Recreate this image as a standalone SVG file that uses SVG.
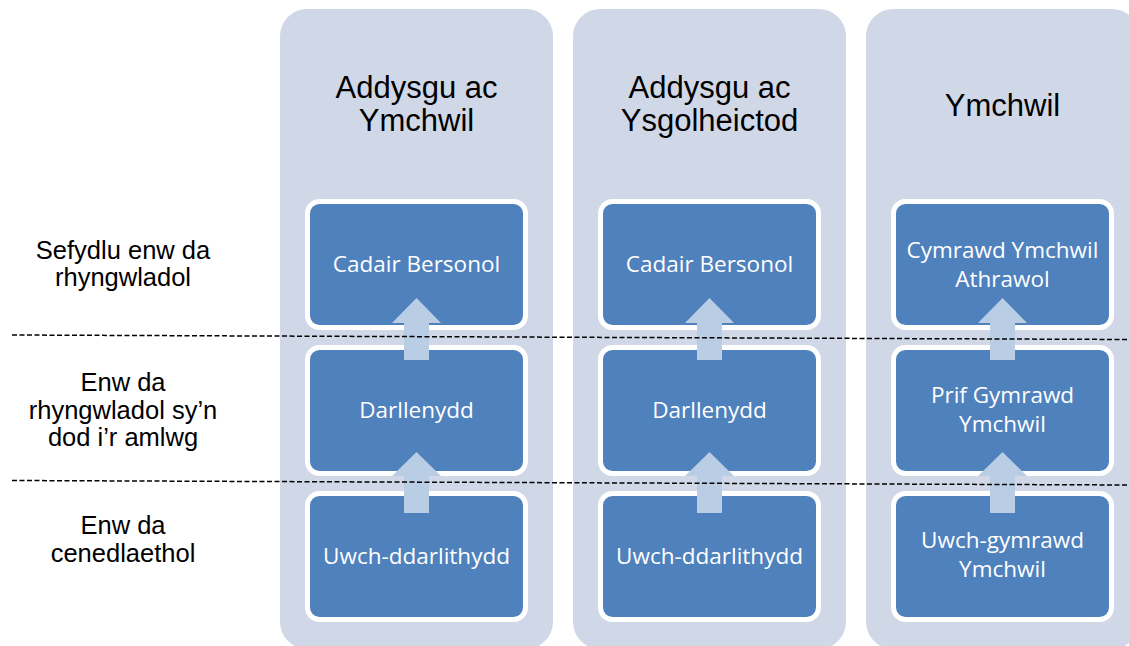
<svg xmlns="http://www.w3.org/2000/svg" width="1129" height="646" viewBox="0 0 1129 646">
<defs>
<style>
.col{fill:#d0d8e8;}
.box{fill:#4f81bd;stroke:#ffffff;stroke-width:5;}
.arrow{fill:#b9cde5;}
.title{font-family:"Liberation Sans",Arial,sans-serif;font-size:31px;fill:#000000;text-anchor:middle;}
.lvl{font-family:"Liberation Sans",Arial,sans-serif;font-size:25.5px;fill:#000000;text-anchor:middle;}
.bt{font-family:"Open Sans","Noto Sans",sans-serif;font-size:22.5px;fill:#ffffff;text-anchor:middle;}
.dash{stroke:#000000;stroke-width:1.5;stroke-dasharray:5 2.5;fill:none;}
</style>
</defs>
<rect width="1129" height="646" fill="#ffffff"/>

<g id="col1">
<rect class="col" x="280" y="9" width="273" height="640" rx="27"/>
<text class="title" x="416.5" y="97.5">Addysgu ac</text>
<text class="title" x="416.5" y="130.5">Ymchwil</text>
</g>
<g id="col2">
<rect class="col" x="573" y="9" width="273" height="640" rx="27"/>
<text class="title" x="709.5" y="97.5">Addysgu ac</text>
<text class="title" x="709.5" y="130.5">Ysgolheictod</text>
</g>
<g id="col3">
<rect class="col" x="866" y="9" width="273" height="640" rx="27"/>
<text class="title" x="1002.5" y="116">Ymchwil</text>
</g>

<g id="c1-top"><rect class="box" x="307.5" y="201.5" width="218" height="126" rx="12"/><text class="bt" x="416.5" y="272">Cadair Bersonol</text></g>
<g id="c1-mid"><rect class="box" x="307.5" y="347.5" width="218" height="126" rx="12"/><text class="bt" x="416.5" y="418">Darllenydd</text></g>
<g id="c1-bot"><rect class="box" x="307.5" y="493.5" width="218" height="126" rx="12"/><text class="bt" x="416.5" y="564">Uwch-ddarlithydd</text></g>

<g id="c2-top"><rect class="box" x="600.5" y="201.5" width="218" height="126" rx="12"/><text class="bt" x="709.5" y="272">Cadair Bersonol</text></g>
<g id="c2-mid"><rect class="box" x="600.5" y="347.5" width="218" height="126" rx="12"/><text class="bt" x="709.5" y="418">Darllenydd</text></g>
<g id="c2-bot"><rect class="box" x="600.5" y="493.5" width="218" height="126" rx="12"/><text class="bt" x="709.5" y="564">Uwch-ddarlithydd</text></g>

<g id="c3-top"><rect class="box" x="893.5" y="201.5" width="218" height="126" rx="12"/><text class="bt" x="1002.5" y="258">Cymrawd Ymchwil</text><text class="bt" x="1002.5" y="287">Athrawol</text></g>
<g id="c3-mid"><rect class="box" x="893.5" y="347.5" width="218" height="126" rx="12"/><text class="bt" x="1002.5" y="403">Prif Gymrawd</text><text class="bt" x="1002.5" y="432">Ymchwil</text></g>
<g id="c3-bot"><rect class="box" x="893.5" y="493.5" width="218" height="126" rx="12"/><text class="bt" x="1002.5" y="548">Uwch-gymrawd</text><text class="bt" x="1002.5" y="577">Ymchwil</text></g>

<g id="connectors">
<polygon class="arrow" points="416.5,298 441,323 429,323 429,360 404,360 404,323 392,323"/>
<polygon class="arrow" points="416.5,452 441,476 429,476 429,513 404,513 404,476 392,476"/>
<polygon class="arrow" points="709.5,298 734,323 722,323 722,360 697,360 697,323 685,323"/>
<polygon class="arrow" points="709.5,452 734,476 722,476 722,513 697,513 697,476 685,476"/>
<polygon class="arrow" points="1002.5,298 1027,323 1015,323 1015,360 990,360 990,323 978,323"/>
<polygon class="arrow" points="1002.5,452 1027,476 1015,476 1015,513 990,513 990,476 978,476"/>
</g>

<g id="levels">
<line class="dash" x1="12" y1="335" x2="1129" y2="339.5"/>
<line class="dash" x1="12" y1="480.5" x2="1129" y2="485"/>
<text class="lvl" x="123" y="259">Sefydlu enw da</text>
<text class="lvl" x="123" y="286">rhyngwladol</text>
<text class="lvl" x="123" y="391">Enw da</text>
<text class="lvl" x="123" y="418.5">rhyngwladol sy’n</text>
<text class="lvl" x="123" y="446">dod i’r amlwg</text>
<text class="lvl" x="123" y="534">Enw da</text>
<text class="lvl" x="123" y="562">cenedlaethol</text>
</g>
</svg>
